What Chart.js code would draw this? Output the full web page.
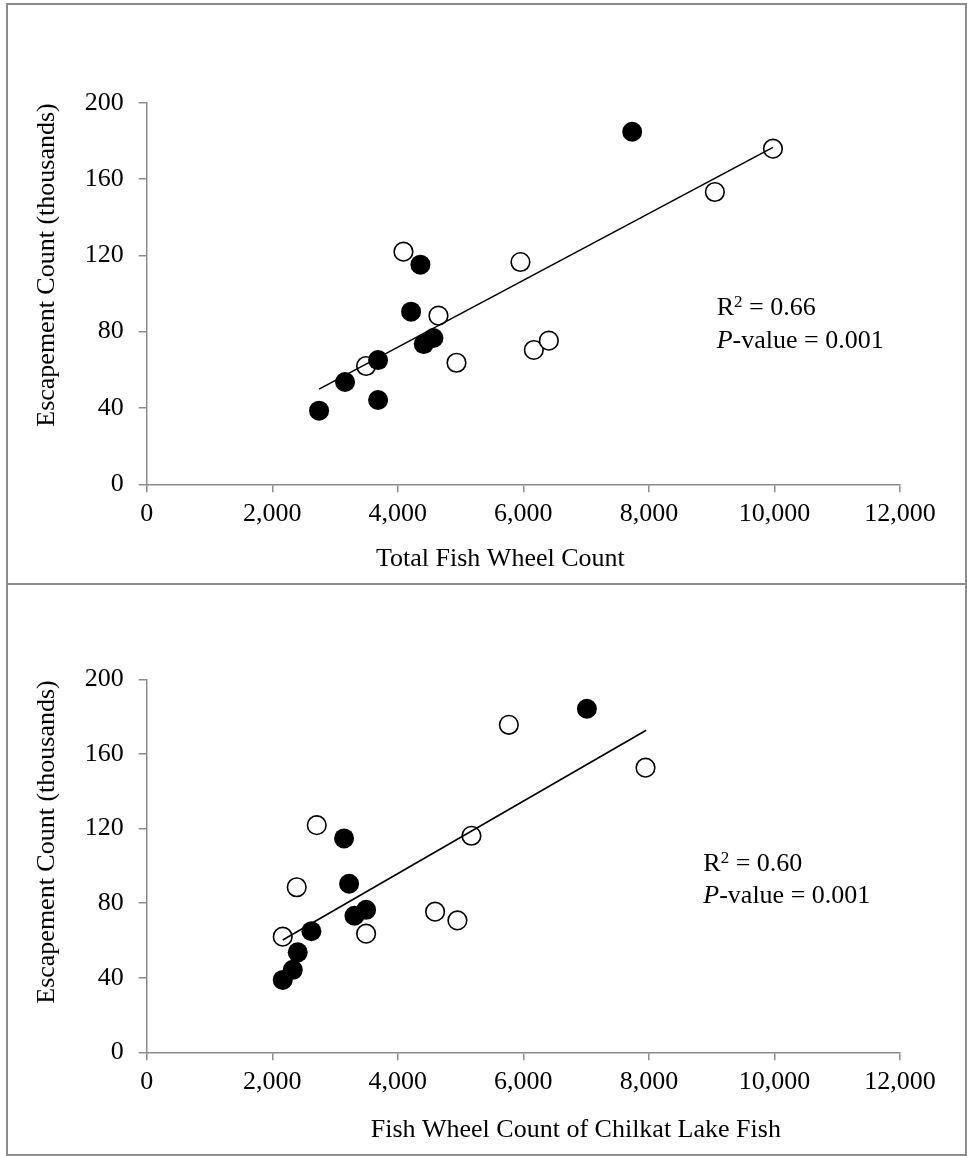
<!DOCTYPE html>
<html lang="en">
<head>
  <meta charset="UTF-8">
  <title>Escapement Count vs Fish Wheel Count</title>
  <script src="https://cdn.jsdelivr.net/npm/chart.js"></script>
  <style>
    body {
      margin: 0;
      background: #fff;
      width: 967px;
      height: 1156px;
      position: relative;
      overflow: hidden;
    }
    .frame {
      position: absolute;
      left: 6px;
      width: 961px;
      border: 2px solid #8c8c8c;
      box-sizing: border-box;
    }
    #frameTop { top: 3px; height: 582px; }
    #frameBottom { top: 583px; height: 573px; }
    canvas { position: absolute; left: 0; }
    #chartTop { top: 0; }
    #chartBottom { top: 584px; }
  </style>
</head>
<body>

<div class="frame" id="frameTop"></div>
<div class="frame" id="frameBottom"></div>
<canvas id="chartTop" width="967" height="584"></canvas>
<canvas id="chartBottom" width="967" height="572"></canvas>

<script>
// axis ticks (shared by both panels)
const xTickValues = [0, 2000, 4000, 6000, 8000, 10000, 12000];
const yTickValues = [0, 40, 80, 120, 160, 200];

// top panel: total fish wheel count vs escapement (thousands)
const topFilledX = [2746, 3160, 3686, 3686, 4212, 4360, 4414, 4568, 7734];
const topFilledY = [38.6, 53.6, 44.2, 65.1, 90.5, 115.1, 73.5, 76.7, 184.8];
const topOpenX = [3495, 4090, 4648, 4935, 5954, 6167, 6406, 9051, 9976];
const topOpenY = [62.0, 121.9, 88.4, 63.7, 116.5, 70.4, 75.3, 153.2, 175.9];
const topTrendX = [2746, 9976];
const topTrendY = [49.9, 176.6];

// bottom panel: fish wheel count of Chilkat Lake fish vs escapement
const botFilledX = [2167, 2327, 2406, 2624, 3144, 3224, 3309, 3495, 7012];
const botFilledY = [38.8, 44.2, 53.6, 64.9, 114.7, 90.4, 73.2, 76.4, 184.2];
const botOpenX = [2167, 2390, 2709, 3495, 4594, 4950, 5173, 5769, 7946];
const botOpenY = [62.0, 88.5, 121.8, 63.6, 75.4, 70.7, 116.1, 175.6, 152.6];
const botTrendX = [2167, 7957];
const botTrendY = [60.2, 172.7];

const SERIF = '"Liberation Serif", "Times New Roman", serif';
const AXIS_GRAY = '#8c8c8c';

Chart.defaults.font.family = SERIF;
Chart.defaults.font.size = 26;
Chart.defaults.color = '#000';

function pts(xs, ys) {
  return xs.map((x, i) => ({ x: x, y: ys[i] }));
}

// axis titles and the R2 / P-value note, drawn on top of the plot
const notePlugin = {
  id: 'panelNote',
  afterDraw(chart, args, o) {
    const ctx = chart.ctx;
    ctx.save();
    ctx.fillStyle = '#000';
    ctx.textBaseline = 'alphabetic';
    ctx.textAlign = 'left';
    ctx.font = '26px ' + SERIF;
    ctx.fillText(o.xTitle, o.xTitleLeft, o.xTitleBase);

    ctx.save();
    ctx.translate(o.yTitleBase, o.yTitleMid);
    ctx.rotate(-Math.PI / 2);
    ctx.textAlign = 'center';
    ctx.fillText(o.yTitle, 0, 0);
    ctx.restore();

    let x = o.noteLeft;
    ctx.fillText('R', x, o.noteBase);
    x += ctx.measureText('R').width;
    ctx.font = '17px ' + SERIF;
    ctx.fillText('2', x, o.noteBase - 8);
    x += ctx.measureText('2').width;
    ctx.font = '26px ' + SERIF;
    ctx.fillText(' = ' + o.r2, x, o.noteBase);

    x = o.noteLeft;
    ctx.font = 'italic 26px ' + SERIF;
    ctx.fillText('P', x, o.noteBase + 32.4);
    x += ctx.measureText('P').width;
    ctx.font = '26px ' + SERIF;
    ctx.fillText('-value = ' + o.pValue, x, o.noteBase + 32.4);
    ctx.restore();
  }
};

function makePanel(canvasId, filled, open, trend, padding, note) {
  return new Chart(document.getElementById(canvasId), {
    type: 'scatter',
    data: {
      datasets: [
        {
          label: 'trend',
          data: trend,
          showLine: true,
          borderColor: '#000',
          borderWidth: 1.6,
          pointRadius: 0,
          fill: false,
          order: 1
        },
        {
          label: 'filled',
          data: filled,
          backgroundColor: '#000',
          borderColor: '#000',
          borderWidth: 0,
          pointRadius: 10,
          order: 2
        },
        {
          label: 'open',
          data: open,
          backgroundColor: '#fff',
          borderColor: '#000',
          borderWidth: 1.6,
          pointRadius: 9.3,
          order: 3
        }
      ]
    },
    options: {
      responsive: false,
      animation: false,
      events: [],
      layout: { padding: padding },
      plugins: {
        legend: { display: false },
        tooltip: { enabled: false },
        panelNote: note
      },
      scales: {
        x: {
          type: 'linear',
          min: 0,
          max: 12000,
          afterBuildTicks: s => { s.ticks = xTickValues.map(v => ({ value: v })); },
          afterFit: s => { s.height = 60; s.paddingLeft = 0; s.paddingRight = 0; },
          grid: { drawOnChartArea: false, drawTicks: true, tickLength: 8, color: AXIS_GRAY, lineWidth: 1.5 },
          border: { display: true, color: AXIS_GRAY, width: 1.5 },
          ticks: {
            padding: 6,
            maxRotation: 0,
            callback: v => v.toLocaleString('en-US')
          }
        },
        y: {
          type: 'linear',
          min: 0,
          max: 200,
          afterBuildTicks: s => { s.ticks = yTickValues.map(v => ({ value: v })); },
          afterFit: s => { s.width = 80; s.paddingTop = 0; s.paddingBottom = 0; },
          grid: { drawOnChartArea: false, drawTicks: true, tickLength: 8, color: AXIS_GRAY, lineWidth: 1.5 },
          border: { display: true, color: AXIS_GRAY, width: 1.5 },
          ticks: { padding: 15 }
        }
      }
    },
    plugins: [notePlugin]
  });
}

makePanel('chartTop',
  pts(topFilledX, topFilledY), pts(topOpenX, topOpenY), pts(topTrendX, topTrendY),
  { left: 66.7, right: 67, top: 102.7, bottom: 39.7 },
  {
    xTitle: 'Total Fish Wheel Count', xTitleLeft: 376, xTitleBase: 566,
    yTitle: 'Escapement Count (thousands)', yTitleBase: 54, yTitleMid: 265,
    r2: '0.66', pValue: '0.001', noteLeft: 716.7, noteBase: 315.3
  });

makePanel('chartBottom',
  pts(botFilledX, botFilledY), pts(botOpenX, botOpenY), pts(botTrendX, botTrendY),
  { left: 66.7, right: 67, top: 95.3, bottom: 43.7 },
  {
    xTitle: 'Fish Wheel Count of Chilkat Lake Fish', xTitleLeft: 370.7, xTitleBase: 552.7,
    yTitle: 'Escapement Count (thousands)', yTitleBase: 54, yTitleMid: 258,
    r2: '0.60', pValue: '0.001', noteLeft: 703.3, noteBase: 287
  });
</script>

</body>
</html>
